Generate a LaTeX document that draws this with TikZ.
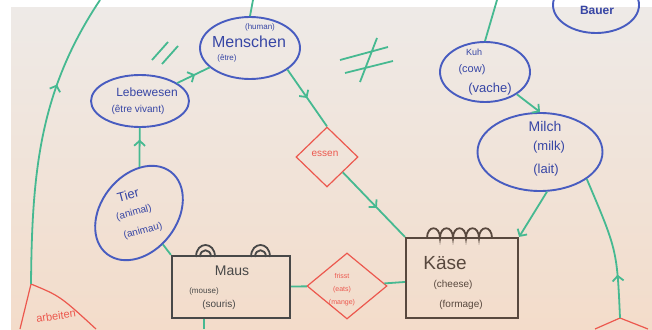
\documentclass[tikz,border=0pt]{standalone}
\usepackage{fontspec}
\setmainfont{Liberation Sans}
\usetikzlibrary{shapes.geometric,arrows.meta,decorations.markings}
\definecolor{ellc}{RGB}{72,92,192}
\definecolor{inkt}{RGB}{55,70,165}
\definecolor{greenc}{RGB}{70,185,145}
\definecolor{redc}{RGB}{236,88,78}
\definecolor{mausc}{RGB}{72,72,72}
\definecolor{kasec}{RGB}{88,72,62}
\definecolor{bgtop}{RGB}{238,234,231}
\definecolor{bgbot}{RGB}{243,220,202}
\tikzset{
  ell/.style={ellipse, draw=ellc, line width=1.9pt, inner sep=0pt},
  boxn/.style={rectangle, draw=#1, line width=2.2pt, inner sep=0pt},
  dia/.style={diamond, draw=redc, line width=1.2pt, inner sep=0pt},
  txt/.style={text=inkt, align=center, inner sep=0pt},
  rtxt/.style={text=redc, align=center, inner sep=0pt},
  link/.style={draw=greenc, line width=1.8pt},
  redline/.style={draw=redc, line width=1.2pt},
  barb/.style={-{Straight Barb[length=5pt,width=11pt]}},
  midarrow/.style={postaction={decorate}, decoration={markings,
    mark=at position #1 with {\arrow{Straight Barb[length=5pt,width=11pt]}}}},
  midarrow/.default=0.5
}
\newcommand{\fs}[1]{\fontsize{#1}{#1}\selectfont}
\begin{document}
\begin{tikzpicture}[x=1pt,y=-1pt]
\useasboundingbox (0,0) rectangle (652,329);
\clip (0,0) rectangle (652,329);
\fill[white] (0,0) rectangle (652,329);
\shade[top color=bgtop, bottom color=bgbot] (11,8) rectangle (652,329);

% ---- nodes
\node[ell, minimum width=100pt, minimum height=62pt] (men) at (250,48) {};
\node[txt] (menA) at (260,27) {\fs{8}(human)};
\node[txt] (menB) at (249,42) {\fs{16}Menschen};
\node[txt] (menC) at (227,58) {\fs{8}(être)};

\node[ell, minimum width=98pt, minimum height=52pt] (leb) at (140,101) {};
\node[txt] (lebA) at (147,92) {\fs{12}Lebewesen};
\node[txt] (lebB) at (138,110) {\fs{10}(être vivant)};

\node[ell, minimum width=104pt, minimum height=76pt, rotate=52] (tier) at (139,213) {};
\node[txt, rotate=15] (tierA) at (128,195) {\fs{13}Tier};
\node[txt, rotate=15] (tierB) at (134,213) {\fs{10}(animal)};
\node[txt, rotate=15] (tierC) at (143,231) {\fs{10}(animau)};

\node[ell, minimum width=90pt, minimum height=60pt] (kuh) at (485,72) {};
\node[txt] (kuhA) at (474,52) {\fs{9}Kuh};
\node[txt] (kuhB) at (472,70) {\fs{11}(cow)};
\node[txt] (kuhC) at (490,89) {\fs{13}(vache)};

\node[ell, minimum width=125pt, minimum height=78pt] (milch) at (540,152) {};
\node[txt] (milA) at (545,126) {\fs{14}Milch};
\node[txt] (milB) at (549,147) {\fs{13}(milk)};
\node[txt] (milC) at (546,170) {\fs{13}(lait)};

\node[ell, minimum width=86pt, minimum height=56pt] (bau) at (596,5) {};
\node[txt] (bauT) at (597,10) {\fs{12}\bfseries Bauer};

\node[boxn=mausc, minimum width=118pt, minimum height=62pt] (maus) at (231,287) {};
\node[text=mausc, inner sep=0pt] (mausA) at (232,271) {\fs{14}Maus};
\node[text=mausc, inner sep=0pt] (mausB) at (204,291) {\fs{8}(mouse)};
\node[text=mausc, inner sep=0pt] (mausC) at (219,305) {\fs{10}(souris)};

\node[boxn=kasec, minimum width=112pt, minimum height=80pt] (kase) at (462,278) {};
\node[text=kasec, inner sep=0pt] (kaseA) at (445,263) {\fs{19}Käse};
\node[text=kasec, inner sep=0pt] (kaseB) at (453,285) {\fs{10}(cheese)};
\node[text=kasec, inner sep=0pt] (kaseC) at (461,305) {\fs{10}(formage)};

\node[dia, minimum width=62pt, minimum height=60pt] (essen) at (327,157) {};
\node[rtxt] (essenT) at (325,154) {\fs{10}essen};

\node[dia, minimum width=80pt, minimum height=66pt] (fr) at (347,286) {};
\node[rtxt] (frT) at (342,290) {\fs{7}frisst\\[1pt]\fs{7}(eats)\\[1pt]\fs{7}(mange)};

% partial red diamonds at the bottom
\coordinate (arbtop) at (31,284);
\coordinate (arbL) at (20,329);
\coordinate (arbR) at (96,329);
\draw[redline] (arbtop) -- (arbL);
\draw[redline] (arbtop) .. controls (60,296) .. (arbR);
\node[rtxt, rotate=8] (arbT) at (56,316) {\fs{11}arbeiten};

\coordinate (brtop) at (620,318);
\coordinate (brL) at (595,329);
\coordinate (brR) at (648,329);
\draw[redline] (brtop) -- (brL);
\draw[redline] (brtop) -- (brR);

% ears of Maus
\draw[mausc, line width=1.8pt]
  (196,257) .. controls (196,241) and (215,241) .. (215,257)
  (200,257) .. controls (200,248) and (211,248) .. (211,257)
  (251,257) .. controls (251,241) and (270,241) .. (270,257)
  (255,257) .. controls (255,248) and (266,248) .. (266,257);
% scallops of Kaese
\draw[kasec, line width=1.8pt]
  (427,238) .. controls (427,225) and (440,225) .. (440,238)
  .. controls (440,225) and (453,225) .. (453,238)
  .. controls (453,225) and (466,225) .. (466,238)
  .. controls (466,225) and (479,225) .. (479,238)
  .. controls (479,225) and (492,225) .. (492,238);

% ---- green connectors
\coordinate (topL) at (100,0);
\coordinate (menup) at (253,0);
\coordinate (kuhup) at (497,0);
\coordinate (mausdown) at (204,329);
\draw[link, midarrow=0.68] (arbtop) .. controls (32,170) and (40,90) .. (topL);
\draw[link, midarrow=0.7] (tier) -- (leb);
\draw[link, midarrow=0.55] (leb) -- (men);
\draw[link] (men.north) -- (menup);
\draw[link, midarrow=0.5] (men.-30) -- (essen.north);
\draw[link, midarrow=0.55] (essen.south east) -- (kase.north west);
\draw[link] (tier) -- (maus.north west);
\draw[link] (maus.south -| mausdown) -- (mausdown);
\draw[link] (maus) -- (fr);
\draw[link] (fr) -- (kase);
\draw[link, barb] (milch.-80) -- (kase.north east);
\draw[link] (kuh.north) -- (kuhup);
\draw[link, barb] (kuh.-35) -- (milch.north);
\draw[link, midarrow=0.3] (brtop) .. controls (617,250) .. (milch.-30);

% equal and not-equal marks
\draw[link] (152,60) -- (168,42) (162,64) -- (178,46);
\draw[link] (340,60) -- (388,47) (345,73) -- (393,61) (360,82) -- (377,38);
\end{tikzpicture}
\end{document}
